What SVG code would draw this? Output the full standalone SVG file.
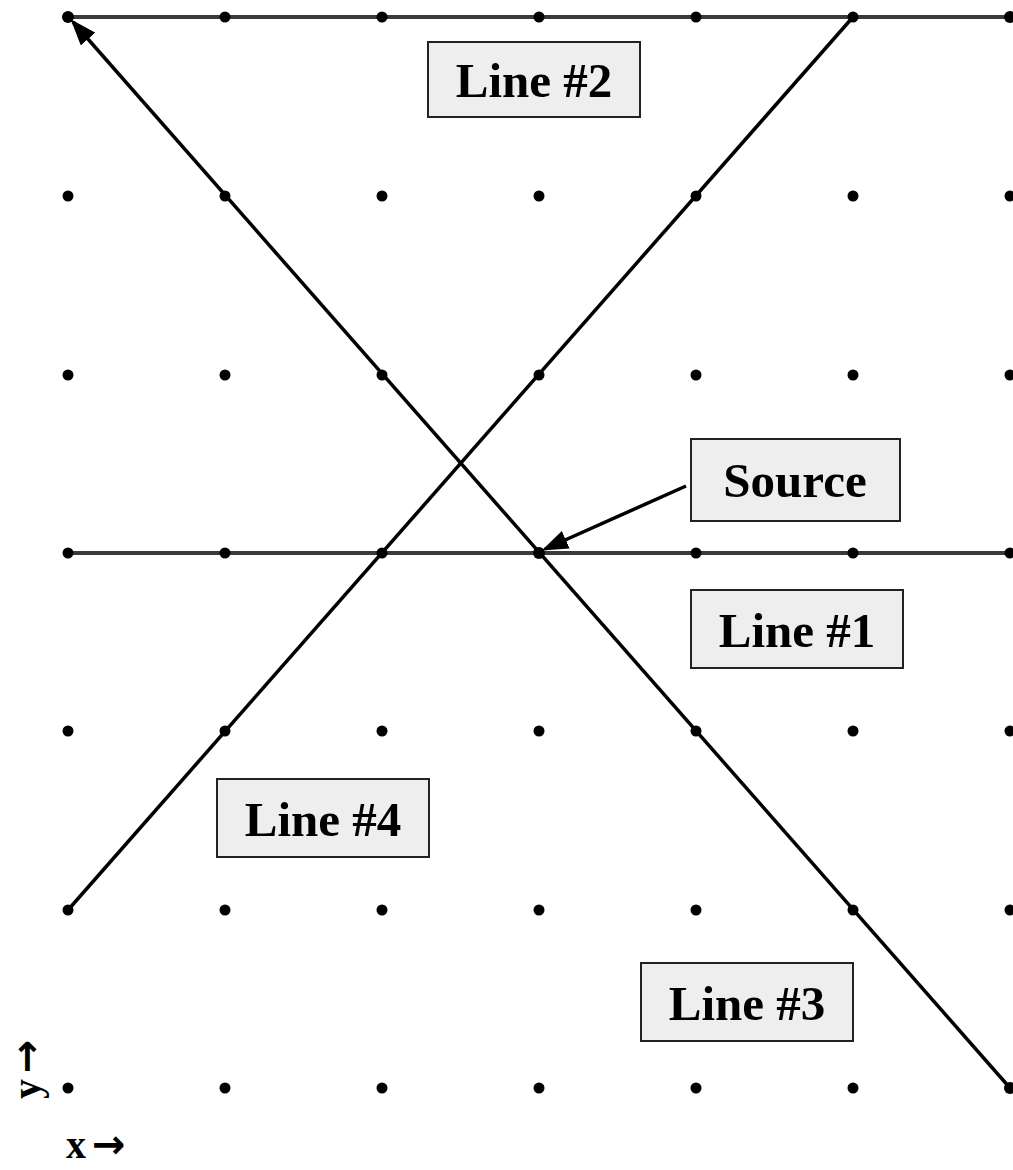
<svg xmlns="http://www.w3.org/2000/svg" width="1013" height="1170" viewBox="0 0 1013 1170">
<style>
.dot{fill:#000}
.h{stroke:#3a3a3a;stroke-width:4;fill:none}
.d{stroke:#000;stroke-width:3.5;fill:none}
.box{fill:#eeeeee;stroke:#222;stroke-width:2}
.lbl{font-family:"Liberation Serif",serif;font-weight:bold;font-size:49px;fill:#000;text-anchor:middle}
.ax{font-family:"Liberation Serif",serif;font-weight:bold;font-size:40px;fill:#000}
.arr{font-family:"DejaVu Sans",sans-serif;font-weight:bold;font-size:40px}
</style>
<defs>
<marker id="ah" markerWidth="7.5" markerHeight="5.5" refX="6.5" refY="2.75" orient="auto" markerUnits="strokeWidth">
<path d="M0,0 L7.5,2.75 L0,5.5 Z" fill="#000"/>
</marker>
</defs>
<rect width="1013" height="1170" fill="#fff"/>
<g id="connectors">
<line class="h" x1="68" y1="17" x2="1013" y2="17"/>
<line class="h" x1="68" y1="553" x2="1013" y2="553"/>
<line class="d" x1="1010" y1="1088" x2="73" y2="22" marker-end="url(#ah)"/>
<line class="d" x1="68" y1="910" x2="853" y2="17"/>
<line class="d" x1="686" y1="486" x2="545" y2="549" stroke-width="3" marker-end="url(#ah)"/>
</g>
<g id="grid">
<g class="dot">
<circle cx="68" cy="17" r="6"/><circle cx="225" cy="17" r="5.5"/><circle cx="382" cy="17" r="5.5"/><circle cx="539" cy="17" r="5.5"/><circle cx="696" cy="17" r="5.5"/><circle cx="853" cy="17" r="5.5"/><circle cx="1010" cy="17" r="6"/>
<circle cx="68" cy="196" r="5.5"/><circle cx="225" cy="196" r="5.5"/><circle cx="382" cy="196" r="5.5"/><circle cx="539" cy="196" r="5.5"/><circle cx="696" cy="196" r="5.5"/><circle cx="853" cy="196" r="5.5"/><circle cx="1010" cy="196" r="5.5"/>
<circle cx="68" cy="375" r="5.5"/><circle cx="225" cy="375" r="5.5"/><circle cx="382" cy="375" r="5.5"/><circle cx="539" cy="375" r="5.5"/><circle cx="696" cy="375" r="5.5"/><circle cx="853" cy="375" r="5.5"/><circle cx="1010" cy="375" r="5.5"/>
<circle cx="68" cy="553" r="5.5"/><circle cx="225" cy="553" r="5.5"/><circle cx="382" cy="553" r="5.5"/><circle cx="539" cy="553" r="6"/><circle cx="696" cy="553" r="5.5"/><circle cx="853" cy="553" r="5.5"/><circle cx="1010" cy="553" r="5.5"/>
<circle cx="68" cy="731" r="5.5"/><circle cx="225" cy="731" r="5.5"/><circle cx="382" cy="731" r="5.5"/><circle cx="539" cy="731" r="5.5"/><circle cx="696" cy="731" r="5.5"/><circle cx="853" cy="731" r="5.5"/><circle cx="1010" cy="731" r="5.5"/>
<circle cx="68" cy="910" r="5.5"/><circle cx="225" cy="910" r="5.5"/><circle cx="382" cy="910" r="5.5"/><circle cx="539" cy="910" r="5.5"/><circle cx="696" cy="910" r="5.5"/><circle cx="853" cy="910" r="5.5"/><circle cx="1010" cy="910" r="5.5"/>
<circle cx="68" cy="1088" r="5.5"/><circle cx="225" cy="1088" r="5.5"/><circle cx="382" cy="1088" r="5.5"/><circle cx="539" cy="1088" r="5.5"/><circle cx="696" cy="1088" r="5.5"/><circle cx="853" cy="1088" r="5.5"/><circle cx="1010" cy="1088" r="6"/>
</g>
</g>
<g id="line2"><rect class="box" x="428" y="42" width="212" height="75"/><text class="lbl" x="534" y="97">Line #2</text></g>
<g id="source"><rect class="box" x="691" y="439" width="209" height="82"/><text class="lbl" x="795" y="497">Source</text></g>
<g id="line1"><rect class="box" x="691" y="590" width="212" height="78"/><text class="lbl" x="797" y="647">Line #1</text></g>
<g id="line4"><rect class="box" x="217" y="779" width="212" height="78"/><text class="lbl" x="323" y="836">Line #4</text></g>
<g id="line3"><rect class="box" x="641" y="963" width="212" height="78"/><text class="lbl" x="747" y="1020">Line #3</text></g>
<g id="axes">
<text class="ax" x="66" y="1158">x<tspan class="arr" dx="6">→</tspan></text>
<text class="ax" x="40" y="1099" transform="rotate(-90 40 1099)">y<tspan class="arr" dx="6">→</tspan></text>
</g>
</svg>
